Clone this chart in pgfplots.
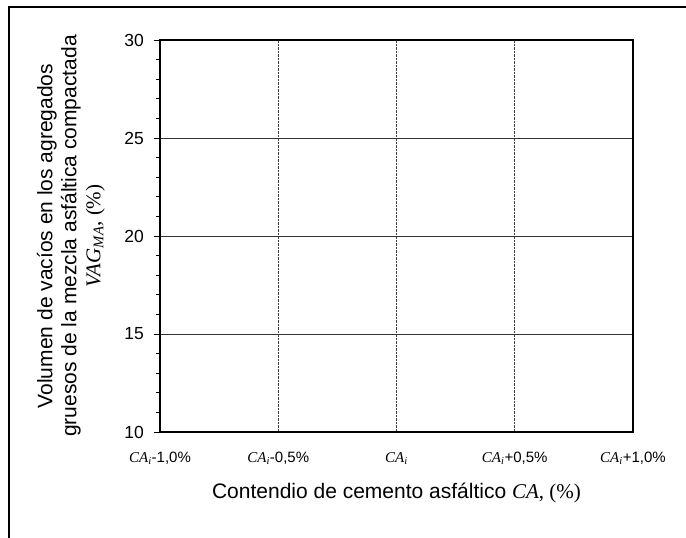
\documentclass[border=0pt]{standalone}
\usepackage{pgfplots}
\pgfplotsset{compat=1.18}
\usepackage{fontspec}
\setmainfont{Liberation Sans}
\newfontfamily\tnr{Liberation Serif}
\newcommand{\ca}{{\tnr\itshape CA}\textsubscript{\tnr\itshape i}}
\begin{document}
\begin{tikzpicture}
\path[use as bounding box] (0pt,0pt) rectangle (686pt,538pt);
\draw[line width=1.6pt] (9pt,0pt) -- (9pt,531pt) -- (686pt,531pt);
\begin{axis}[
  at={(160pt,106pt)}, anchor=south west,
  scale only axis, width=473pt, height=392pt,
  xmin=0, xmax=4, ymin=10, ymax=30,
  xtick={0,1,2,3,4},
  xticklabels={{\ca-1,0\%},{\ca-0,5\%},{\ca},{\ca+0,5\%},{\ca+1,0\%}},
  ytick={10,15,20,25,30},
  minor y tick num=4,
  ytick pos=left,
  tick align=outside,
  major tick length=6pt,
  minor tick length=4pt,
  xtick style={draw=none},
  ytick style={black, line width=0.9pt},
  axis line style={line width=2pt},
  xmajorgrids, ymajorgrids,
  major x grid style={densely dotted, black!75, line width=0.7pt},
  major y grid style={black!80, line width=0.7pt},
  /pgf/number format/assume math mode=true,
  yticklabel style={font=\fontsize{17.5}{20}\selectfont, inner sep=0pt, xshift=-10pt},
  xticklabel style={font=\fontsize{15}{18}\selectfont, inner sep=0pt, anchor=base, yshift=-24pt},
  xlabel={Contendio de cemento asfáltico {\tnr\itshape CA}{\tnr, (\%)}},
  xlabel style={at={(axis description cs:0.5,0)}, anchor=base, yshift=-67pt, font=\fontsize{21}{24}\selectfont},
  ylabel={Volumen de vacíos en los agregados\\gruesos de la mezcla asfáltica compactada\\{\tnr\itshape VAG}\textsubscript{\tnr\itshape MA}{\tnr, (\%)}},
  ylabel style={at={(axis description cs:0,0.5)}, anchor=south, inner sep=0pt, yshift=55pt, align=center, font=\fontsize{21}{24}\selectfont},
]
\end{axis}
\end{tikzpicture}
\end{document}
